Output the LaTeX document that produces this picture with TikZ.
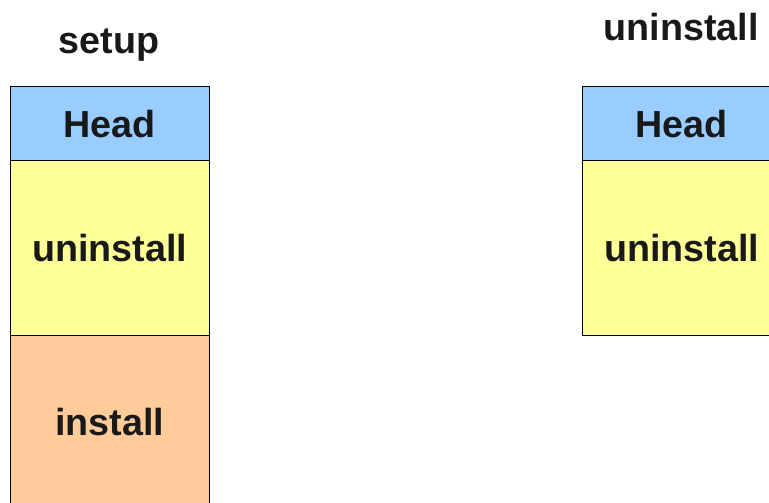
\documentclass[tikz,border=0pt]{standalone}
\usepackage{fontspec}
\setmainfont{Liberation Sans}
\usetikzlibrary{positioning}
\definecolor{headblue}{RGB}{153,204,255}
\definecolor{partyellow}{RGB}{255,255,153}
\definecolor{partorange}{RGB}{255,204,153}
\begin{document}
\begin{tikzpicture}[x=0.5pt,y=-0.5pt,
  part/.style={draw=black, line width=0.5pt, minimum width=99.5pt, inner sep=0pt, outer sep=0pt,
    font=\fontsize{18.85}{22}\selectfont\bfseries, text=black!90},
  title/.style={font=\fontsize{18.85}{22}\selectfont\bfseries, text=black!90, anchor=base}]
\useasboundingbox (0,0) rectangle (769,502);
\clip (0,0) rectangle (769,502);
% setup
\node [title] (setuptitle) at (109,54) {setup};
\node [part, fill=headblue, minimum height=37pt, anchor=north west] (shead) at (10,87) {Head};
\node [part, fill=partyellow, minimum height=87pt, below=0pt of shead] (sunin) {uninstall};
\node [part, fill=partorange, minimum height=87pt, below=0pt of sunin] (sinst) {install};
% uninstall
\node [title] (unintitle) at (681,41) {uninstall};
\node [part, fill=headblue, minimum height=37pt, anchor=north west] (uhead) at (582,87) {Head};
\node [part, fill=partyellow, minimum height=87pt, below=0pt of uhead] (uunin) {uninstall};
\end{tikzpicture}
\end{document}
